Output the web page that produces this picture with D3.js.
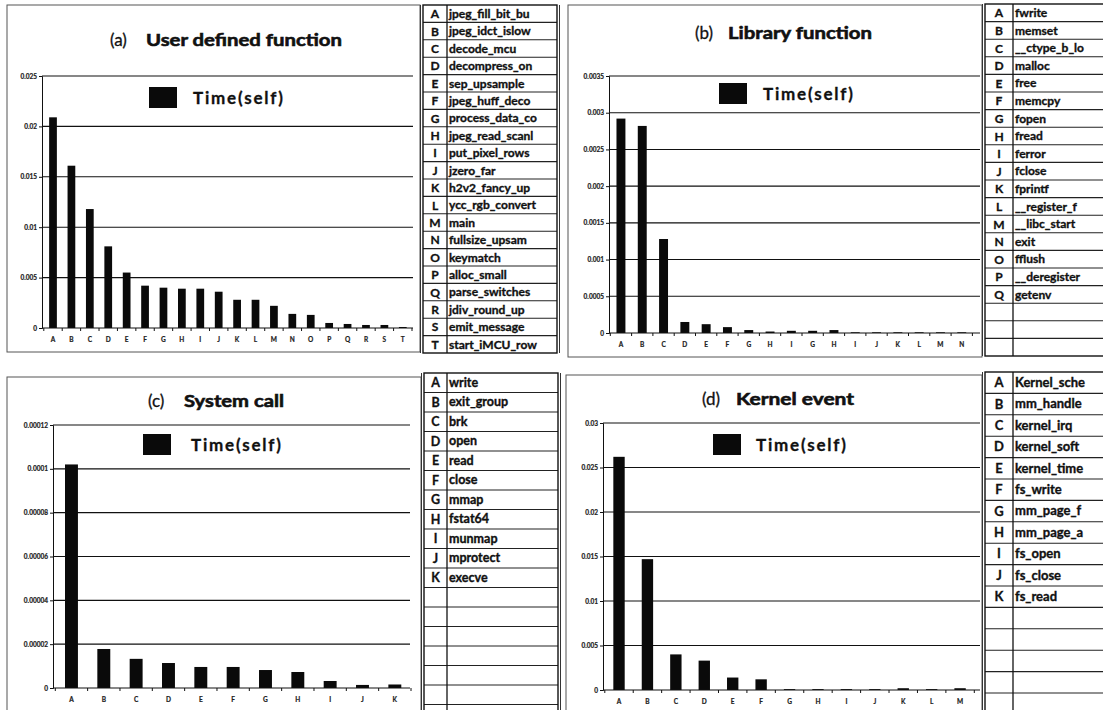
<!DOCTYPE html>
<html>
<head>
  <meta charset="utf-8" />
  <title>Time(self) profiles</title>
  <script src="https://cdn.jsdelivr.net/npm/d3@7/dist/d3.min.js"></script>
  <style>
    body { margin: 0; background: #fff; }
    text { font-family: Lato, "Open Sans", sans-serif; }
  </style>
</head>
<body>
<svg id="chart" width="1103" height="710"></svg>
<script>
// ---- data ----
let catsA = ['A','B','C','D','E','F','G','H','I','J','K','L','M','N','O','P','Q','R','S','T']
let valsA = [0.0209, 0.0161, 0.0118, 0.0081, 0.0055, 0.0042, 0.0040, 0.0039, 0.0039, 0.0036,
             0.0028, 0.0028, 0.0022, 0.0014, 0.0013, 0.0005, 0.0004, 0.0003, 0.0003, 0.0001]
// names as far as the table cells show them
let namesA = ['jpeg_fill_bit_bu','jpeg_idct_islow','decode_mcu','decompress_on','sep_upsample',
              'jpeg_huff_deco','process_data_co','jpeg_read_scanl','put_pixel_rows','jzero_far',
              'h2v2_fancy_up','ycc_rgb_convert','main','fullsize_upsam','keymatch',
              'alloc_small','parse_switches','jdiv_round_up','emit_message','start_iMCU_row']
let ticksA = [0, 0.005, 0.01, 0.015, 0.02, 0.025]

let catsB = ['A','B','C','D','E','F','G','H','I','G','H','I','J','K','L','M','N']
let valsB = [0.00292, 0.00282, 0.00128, 0.00015, 0.00012, 0.00008, 0.00004, 0.00002, 0.00003,
             0.00003, 0.00004, 0.00001, 0.00001, 0.00001, 0.00001, 0.00001, 0.00001]
let tableLettersB = ['A','B','C','D','E','F','G','H','I','J','K','L','M','N','O','P','Q']
let namesB = ['fwrite','memset','__ctype_b_lo','malloc','free','memcpy','fopen','fread','ferror',
              'fclose','fprintf','__register_f','__libc_start','exit','fflush',
              '__deregister','getenv']
let ticksB = [0, 0.0005, 0.001, 0.0015, 0.002, 0.0025, 0.003, 0.0035]

let catsC = ['A','B','C','D','E','F','G','H','I','J','K']
let valsC = [0.000102, 0.0000178, 0.0000133, 0.0000114, 0.0000096, 0.0000096, 0.0000082,
             0.0000073, 0.0000032, 0.0000014, 0.0000016]
let namesC = ['write','exit_group','brk','open','read','close','mmap','fstat64','munmap','mprotect','execve']
let ticksC = [0, 0.00002, 0.00004, 0.00006, 0.00008, 0.0001, 0.00012]

let catsD = ['A','B','C','D','E','F','G','H','I','J','K','L','M']
let valsD = [0.0262, 0.0147, 0.0040, 0.0033, 0.0014, 0.0012, 0.0001, 0.0001, 0.0001, 0.0001,
             0.0002, 0.0001, 0.0002]
let tableLettersD = ['A','B','C','D','E','F','G','H','I','J','K']
let namesD = ['Kernel_sche','mm_handle','kernel_irq','kernel_soft','kernel_time',
              'fs_write','mm_page_f','mm_page_a','fs_open','fs_close','fs_read']
let ticksD = [0, 0.005, 0.01, 0.015, 0.02, 0.025, 0.03]

let legendLabel = 'Time(self)'

let svg = d3.select('#chart')
svg.append('rect').attr('width', 1103).attr('height', 710).attr('fill', '#fff')

function drawPanel(p) {
  let g = svg.append('g')

  // outer frame
  g.append('rect')
    .attr('x', p.frame[0]).attr('y', p.frame[1])
    .attr('width', p.frame[2]).attr('height', p.frame[3])
    .attr('fill', 'none').attr('stroke', '#555').attr('stroke-width', 1)

  let yScale = d3.scaleLinear().domain([0, p.max]).range([p.y0, p.yTop])
  let xScale = d3.scaleBand()
    .domain(d3.range(p.cats.length))
    .range([p.bandStart, p.bandEnd])
    .paddingInner(p.pad)
    .paddingOuter(p.pad / 2)

  // gridlines
  g.selectAll('line.grid')
    .data(p.ticks.filter(d => d > 0))
    .enter()
    .append('line')
    .attr('class', 'grid')
    .attr('x1', p.axisX).attr('x2', p.gridRight)
    .attr('y1', d => yScale(d)).attr('y2', d => yScale(d))
    .attr('stroke', '#111').attr('stroke-width', 1.1)

  // y axis
  let yAxis = d3.axisLeft(yScale).tickValues(p.ticks).tickSize(3).tickFormat(d => String(d))
  let ya = g.append('g').attr('transform', 'translate(' + p.axisX + ',0)').call(yAxis)
  ya.select('.domain').attr('stroke', '#111')
  ya.selectAll('line').attr('stroke', '#111')
  ya.selectAll('text')
    .attr('font-size', 6.5).attr('font-weight', 'bold').attr('fill', '#222')
    .attr('stroke', '#222').attr('stroke-width', 0.2)
    .attr('font-family', 'Lato, sans-serif').attr('x', -5)

  // bars
  g.selectAll('rect.bar')
    .data(p.vals)
    .enter()
    .append('rect')
    .attr('class', 'bar')
    .attr('x', (d, i) => xScale(i))
    .attr('y', d => yScale(d))
    .attr('width', xScale.bandwidth())
    .attr('height', d => p.y0 - yScale(d))
    .attr('fill', '#0a0a0a')

  // x axis line + category boundary ticks
  g.append('line')
    .attr('x1', p.axisX).attr('x2', p.gridRight)
    .attr('y1', p.y0).attr('y2', p.y0)
    .attr('stroke', '#111').attr('stroke-width', 1.2)
  let step = xScale.step()
  g.selectAll('line.xtick')
    .data(d3.range(p.cats.length + 1))
    .enter()
    .append('line')
    .attr('class', 'xtick')
    .attr('x1', i => xScale(0) - step * p.pad / 2 + i * step)
    .attr('x2', i => xScale(0) - step * p.pad / 2 + i * step)
    .attr('y1', p.y0).attr('y2', p.y0 + 3)
    .attr('stroke', '#111')

  g.selectAll('text.xlab')
    .data(p.cats)
    .enter()
    .append('text')
    .attr('class', 'xlab')
    .attr('x', (d, i) => xScale(i) + xScale.bandwidth() / 2)
    .attr('y', p.y0 + 14)
    .attr('text-anchor', 'middle')
    .attr('font-size', 6.5).attr('font-weight', 'bold').attr('fill', '#222')
    .attr('stroke', '#222').attr('stroke-width', 0.2)
    .text(d => d)

  // title
  g.append('text')
    .attr('x', p.title.x1).attr('y', p.title.y)
    .attr('font-size', 17).attr('fill', '#111')
    .attr('stroke', '#111').attr('stroke-width', 0.3)
    .text(p.title.tag)
  g.append('text')
    .attr('x', p.title.x2).attr('y', p.title.y)
    .attr('font-size', 17).attr('font-weight', 'bold').attr('fill', '#111')
    .attr('stroke', '#111').attr('stroke-width', 0.6)
    .attr('textLength', p.title.w).attr('lengthAdjust', 'spacingAndGlyphs')
    .text(p.title.text)

  // legend
  g.append('rect')
    .attr('x', p.legend[0]).attr('y', p.legend[1])
    .attr('width', 28).attr('height', 21)
    .attr('fill', '#0a0a0a')
  g.append('text')
    .attr('x', p.legend[2]).attr('y', p.legend[3])
    .attr('font-size', 17).attr('font-weight', 'bold').attr('fill', '#111')
    .attr('stroke', '#111').attr('stroke-width', 0.3)
    .attr('textLength', 90).attr('lengthAdjust', 'spacing')
    .text(legendLabel)
}

function drawTable(t) {
  let g = svg.append('g')
  let id = 'clip' + t.id
  svg.append('clipPath').attr('id', id)
    .append('rect').attr('x', t.x).attr('y', t.y).attr('width', t.w).attr('height', t.h)

  let rows = d3.range(t.rows)
  let body = g.append('g').attr('clip-path', 'url(#' + id + ')')

  body.selectAll('line.row')
    .data(rows.slice(1))
    .enter()
    .append('line')
    .attr('x1', t.x).attr('x2', t.x + t.w)
    .attr('y1', i => t.y + i * t.rowH).attr('y2', i => t.y + i * t.rowH)
    .attr('stroke', '#222').attr('stroke-width', 1.1)

  body.append('line')
    .attr('x1', t.x + t.lw).attr('x2', t.x + t.lw)
    .attr('y1', t.y).attr('y2', t.y + t.h)
    .attr('stroke', '#111').attr('stroke-width', 1.3)

  body.selectAll('text.letter')
    .data(t.letters)
    .enter()
    .append('text')
    .attr('x', t.x + t.lw / 2)
    .attr('y', (d, i) => t.y + i * t.rowH + t.rowH / 2 + 4.5)
    .attr('text-anchor', 'middle')
    .attr('font-family', '"Open Sans", sans-serif')
    .attr('font-size', t.fs).attr('font-weight', 'bold').attr('fill', '#111')
    .attr('stroke', '#111').attr('stroke-width', 0.3)
    .text(d => d)

  body.selectAll('text.name')
    .data(t.names)
    .enter()
    .append('text')
    .attr('x', t.x + t.lw + 2)
    .attr('y', (d, i) => t.y + i * t.rowH + t.rowH / 2 + 4.2)
    .attr('font-family', '"DejaVu Sans Mono", monospace')
    .attr('font-size', t.fs).attr('font-weight', 'bold').attr('fill', '#111')
    .attr('stroke', '#111').attr('stroke-width', 0.35)
    .text(d => d)

  // double border
  g.append('rect')
    .attr('x', t.x).attr('y', t.y).attr('width', t.w).attr('height', t.h)
    .attr('fill', 'none').attr('stroke', '#111').attr('stroke-width', 1.4)
  g.append('line')
    .attr('x1', t.x - 2.5).attr('x2', t.x - 2.5).attr('y1', t.y).attr('y2', t.y + t.h)
    .attr('stroke', '#333')
  g.append('line')
    .attr('x1', t.x + t.w + 2.5).attr('x2', t.x + t.w + 2.5).attr('y1', t.y).attr('y2', t.y + t.h)
    .attr('stroke', '#333')
}

drawPanel({
  cats: catsA, vals: valsA, ticks: ticksA, max: 0.025,
  frame: [7, 5, 413, 347], axisX: 42, gridRight: 413, bandStart: 43.8, bandEnd: 412, pad: 0.58,
  y0: 328, yTop: 76,
  title: { tag: '(a)', text: 'User defined function', x1: 110, x2: 146, y: 46, w: 196 },
  legend: [149, 87, 193, 104]
})
drawPanel({
  cats: catsB, vals: valsB, ticks: ticksB, max: 0.0035,
  frame: [568, 5, 414, 352], axisX: 609, gridRight: 980, bandStart: 610.3, bandEnd: 972.4, pad: 0.58,
  y0: 333, yTop: 76,
  title: { tag: '(b)', text: 'Library function', x1: 695, x2: 728, y: 39, w: 144 },
  legend: [719, 83, 763, 100]
})
drawPanel({
  cats: catsC, vals: valsC, ticks: ticksC, max: 0.00012,
  frame: [7, 377, 414, 345], axisX: 53, gridRight: 410, bandStart: 55.3, bandEnd: 411, pad: 0.6,
  y0: 688, yTop: 425,
  title: { tag: '(c)', text: 'System call', x1: 148, x2: 184, y: 407, w: 100 },
  legend: [143, 434, 191, 451]
})
drawPanel({
  cats: catsD, vals: valsD, ticks: ticksD, max: 0.03,
  frame: [566, 375, 416, 345], axisX: 603, gridRight: 980, bandStart: 604.8, bandEnd: 974.3, pad: 0.6,
  y0: 690, yTop: 423,
  title: { tag: '(d)', text: 'Kernel event', x1: 702, x2: 736, y: 405, w: 118 },
  legend: [713, 434, 756, 451]
})

drawTable({ id: 'a', x: 423, y: 5, w: 134, h: 348, lw: 24, rowH: 17.4, rows: 20, fs: 12, letters: catsA, names: namesA })
drawTable({ id: 'b', x: 985, y: 4, w: 150, h: 352, lw: 28, rowH: 17.6, rows: 20, fs: 12, letters: tableLettersB, names: namesB })
drawTable({ id: 'c', x: 424, y: 373, w: 134, h: 345, lw: 23, rowH: 19.5, rows: 18, fs: 12.5, letters: catsC, names: namesC })
drawTable({ id: 'd', x: 985, y: 372, w: 150, h: 345, lw: 28, rowH: 21.4, rows: 17, fs: 13, letters: tableLettersD, names: namesD })
</script>
</body>
</html>
